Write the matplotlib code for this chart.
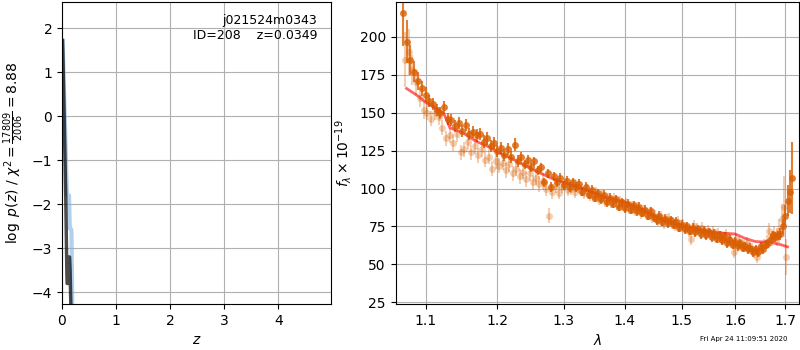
import matplotlib
matplotlib.use('Agg')
import matplotlib.pyplot as plt
import numpy as np
from matplotlib.ticker import NullLocator, FixedLocator, FixedFormatter

# --- p(z) panel ---
z_dark = [0.010, 0.015, 0.030, 0.050, 0.070, 0.090, 0.095, 0.120, 0.130, 0.140, 0.150, 0.160, 0.170, 0.200]
logp_dark = [1.72, 1.50, 0.60, -0.60, -1.90, -3.55, -3.80, -3.80, -3.20, -3.20, -3.50, -4.10, -4.60, -6.00]

z_blue = [0.010, 0.030, 0.060, 0.090, 0.100, 0.130, 0.145, 0.160, 0.175, 0.190, 0.210]
logp_blue = [1.70, 0.90, -0.40, -1.75, -1.80, -1.80, -2.55, -2.55, -2.60, -4.30, -6.00]

# --- spectrum panel ---
wave_a = [1.070, 1.075, 1.080, 1.085, 1.090, 1.095, 1.100, 1.105, 1.110, 1.115,
          1.120, 1.125, 1.130, 1.135, 1.140, 1.145, 1.150, 1.155, 1.160, 1.165,
          1.170, 1.175, 1.180, 1.185, 1.190, 1.195, 1.200, 1.205, 1.210, 1.215,
          1.220, 1.225, 1.230, 1.235, 1.240, 1.245, 1.250, 1.255, 1.260, 1.265,
          1.270, 1.275, 1.280, 1.285, 1.290, 1.295, 1.300, 1.305, 1.310, 1.315,
          1.320, 1.325, 1.330, 1.335, 1.340, 1.345, 1.350, 1.355, 1.360, 1.365,
          1.370, 1.375, 1.380, 1.385, 1.390, 1.395, 1.400, 1.405, 1.410, 1.415,
          1.420, 1.425, 1.430, 1.435, 1.440, 1.445, 1.450, 1.455, 1.460, 1.465,
          1.470, 1.475, 1.480, 1.485, 1.490, 1.495, 1.500, 1.505, 1.510, 1.515,
          1.520, 1.525, 1.530, 1.535, 1.540, 1.545, 1.550, 1.555, 1.560, 1.565,
          1.570, 1.575, 1.580, 1.585, 1.590, 1.595, 1.600, 1.605, 1.610, 1.615,
          1.620, 1.625, 1.630, 1.635, 1.640, 1.645, 1.650, 1.655, 1.660, 1.665,
          1.670, 1.675, 1.680, 1.685, 1.690, 1.695, 1.700, 1.705, 1.710, 1.715]
flux_a = [216, 197, 185, 177, 171, 166, 162, 158, 156, 152,
          150, 154, 146, 145, 141, 143, 138, 142, 136, 137,
          135, 136, 131, 133, 128, 130, 125, 127, 122, 126,
          121, 129, 118, 121, 116, 119, 114, 118, 112, 114,
          104, 110, 101, 108, 104, 107, 102, 105, 101, 104,
          101, 103, 98, 101, 96, 99, 94, 97, 93, 96,
          91, 94, 90, 93, 88, 91, 87, 90, 86, 89,
          85, 88, 84, 86, 82, 85, 81, 79, 82, 78,
          80, 77, 79, 76, 78, 74, 76, 73, 75, 72,
          74, 71, 73, 70, 72, 69, 71, 68, 70, 67,
          69, 66, 68, 64, 66, 63, 65, 62, 64, 61,
          62, 60, 61, 58, 60, 58, 62, 60, 63, 64,
          67, 69, 68, 69, 70, 75, 82, 92, 98, 107]
err_a = [22, 14, 10, 7, 6, 5, 5, 4, 4, 4,
         4, 4, 4, 4, 4, 4, 4, 4, 4, 4,
         4, 4, 4, 4, 4, 4, 4, 4, 4, 4,
         4, 4, 4, 3, 3, 3, 3, 3, 3, 3,
         3, 3, 3, 3, 3, 3, 3, 3, 3, 3,
         3, 3, 3, 3, 3, 3, 3, 3, 3, 3,
         3, 3, 3, 3, 3, 3, 3, 3, 3, 3,
         3, 3, 3, 3, 3, 3, 3, 3, 3, 3,
         3, 3, 3, 3, 3, 3, 3, 3, 3, 3,
         3, 3, 3, 3, 3, 3, 3, 3, 3, 3,
         3, 3, 3, 3, 3, 3, 3, 3, 3, 3,
         3, 3, 3, 3, 3, 3, 3, 3, 3, 3,
         3, 3, 3, 3, 4, 5, 7, 10, 14, 24]

wave_b = [1.0725, 1.0775, 1.0825, 1.0875, 1.0925, 1.0975, 1.1025, 1.1075, 1.1125, 1.1175,
          1.1225, 1.1275, 1.1325, 1.1375, 1.1425, 1.1475, 1.1525, 1.1575, 1.1625, 1.1675,
          1.1725, 1.1775, 1.1825, 1.1875, 1.1925, 1.1975, 1.2025, 1.2075, 1.2125, 1.2175,
          1.2225, 1.2275, 1.2325, 1.2375, 1.2425, 1.2475, 1.2525, 1.2575, 1.2625, 1.2675,
          1.2725, 1.2775, 1.2825, 1.2875, 1.2925, 1.2975, 1.3025, 1.3075, 1.3125, 1.3175,
          1.3225, 1.3275, 1.3325, 1.3375, 1.3425, 1.3475, 1.3525, 1.3575, 1.3625, 1.3675,
          1.3725, 1.3775, 1.3825, 1.3875, 1.3925, 1.3975, 1.4025, 1.4075, 1.4125, 1.4175,
          1.4225, 1.4275, 1.4325, 1.4375, 1.4425, 1.4475, 1.4525, 1.4575, 1.4625, 1.4675,
          1.4725, 1.4775, 1.4825, 1.4875, 1.4925, 1.4975, 1.5025, 1.5075, 1.5125, 1.5175,
          1.5225, 1.5275, 1.5325, 1.5375, 1.5425, 1.5475, 1.5525, 1.5575, 1.5625, 1.5675,
          1.5725, 1.5775, 1.5825, 1.5875, 1.5925, 1.5975, 1.6025, 1.6075, 1.6125, 1.6175,
          1.6225, 1.6275, 1.6325, 1.6375, 1.6425, 1.6475, 1.6525, 1.6575, 1.6625, 1.6675,
          1.6725, 1.6775, 1.6825, 1.6875, 1.6925, 1.6975, 1.7025]
flux_b = [185, 190, 178, 170, 160, 152, 150, 146, 150, 147,
          140, 133, 135, 130, 136, 124, 126, 131, 124, 128,
          122, 126, 119, 121, 113, 118, 115, 117, 112, 116,
          110, 113, 108, 111, 106, 110, 104, 107, 103, 105,
          100, 82, 98, 102, 97, 101, 103, 99, 100, 98,
          101, 99, 97, 99, 96, 95, 97, 93, 95, 92,
          93, 91, 93, 90, 91, 89, 90, 87, 88, 86,
          87, 84, 85, 83, 84, 81, 82, 79, 81, 77,
          79, 80, 77, 76, 78, 75, 76, 74, 72, 67,
          75, 73, 72, 74, 71, 72, 70, 71, 69, 70,
          68, 67, 69, 66, 65, 58, 66, 64, 63, 62,
          64, 61, 60, 58, 55, 59, 61, 63, 65, 72,
          67, 70, 68, 72, 80, 88, 55]
err_b = [18, 15, 10, 8, 6, 6, 5, 5, 5, 5,
         5, 5, 5, 5, 5, 5, 5, 5, 5, 5,
         5, 5, 5, 5, 5, 5, 5, 5, 5, 5,
         5, 5, 5, 5, 5, 5, 5, 5, 5, 5,
         5, 5, 5, 5, 4, 4, 4, 4, 4, 4,
         4, 4, 4, 4, 4, 4, 4, 4, 4, 4,
         4, 4, 4, 4, 4, 4, 4, 4, 4, 4,
         4, 4, 4, 4, 4, 4, 4, 4, 4, 4,
         4, 4, 4, 4, 4, 4, 4, 4, 4, 4,
         4, 4, 4, 4, 4, 4, 4, 4, 4, 4,
         4, 4, 4, 4, 4, 4, 4, 4, 4, 4,
         4, 4, 4, 4, 4, 4, 4, 4, 4, 5,
         5, 5, 6, 8, 10, 20, 12]

wave_model = [1.075, 1.090, 1.100, 1.110, 1.120, 1.125, 1.133, 1.150, 1.170, 1.190,
              1.200, 1.220, 1.250, 1.280, 1.300, 1.330, 1.350, 1.370, 1.400, 1.430,
              1.455, 1.470, 1.500, 1.530, 1.560, 1.600, 1.620, 1.640, 1.670, 1.690, 1.705]
flux_model = [166, 161, 157, 154, 151, 149, 140, 137, 131, 127,
              124, 120, 113, 107, 104, 100, 97, 94, 91, 86,
              81, 79, 75.5, 73, 71, 70, 67, 65, 64.5, 63, 61.5]

xticks_r = [1.1, 1.2, 1.3, 1.4, 1.5, 1.6, 1.7]
orange = '#d95f02'

fig = plt.figure(figsize=(8, 3.5), dpi=100)
ax1 = fig.add_axes([0.0775, 0.131, 0.3365, 0.863])
ax2 = fig.add_axes([0.4945, 0.131, 0.5045, 0.863])

ax1.plot(z_blue, logp_blue, color='#7fb2e0', alpha=0.6, lw=3)
ax1.plot(z_dark, logp_dark, color='k', alpha=0.7, lw=2.5)
ax1.set_xlim(0, 4.98)
ax1.set_ylim(-4.27, 2.59)
ax1.set_xticks([0, 1, 2, 3, 4])
ax1.set_yticks([-4, -3, -2, -1, 0, 1, 2])
ax1.grid(True)
ax1.set_xlabel(r'$z$')
ax1.set_ylabel(r'$\log\ p(z)$ / $\chi^2=\frac{17809}{2006}=8.88$')
ax1.text(0.948, 0.962, 'j021524m0343\nID=208    z=0.0349', transform=ax1.transAxes,
         ha='right', va='top', fontsize=9)

ax2.errorbar(wave_b, flux_b, yerr=err_b, color=orange, alpha=0.3, marker='o', ms=5,
             mew=0, linestyle='None')
ax2.errorbar(wave_a, flux_a, yerr=err_a, color=orange, alpha=0.8, marker='o', ms=5,
             mew=0, linestyle='None')
ax2.plot(wave_model, flux_model, color='r', alpha=0.6, lw=2)
ax2.set_xscale('log')
ax2.set_xlim(1.0608, 1.729)
ax2.set_ylim(23.7, 223)
ax2.xaxis.set_major_locator(FixedLocator(xticks_r))
ax2.xaxis.set_major_formatter(FixedFormatter(['%.1f' % t for t in xticks_r]))
ax2.xaxis.set_minor_locator(NullLocator())
ax2.set_yticks([25, 50, 75, 100, 125, 150, 175, 200])
ax2.grid(True)
ax2.set_xlabel(r'$\lambda$')
ax2.set_ylabel(r'$f_\lambda\times10^{-19}$')

fig.text(0.985, 0.022, 'Fri Apr 24 11:09:51 2020', ha='right', va='bottom', fontsize=5)

fig.savefig('out.png', dpi=100)
